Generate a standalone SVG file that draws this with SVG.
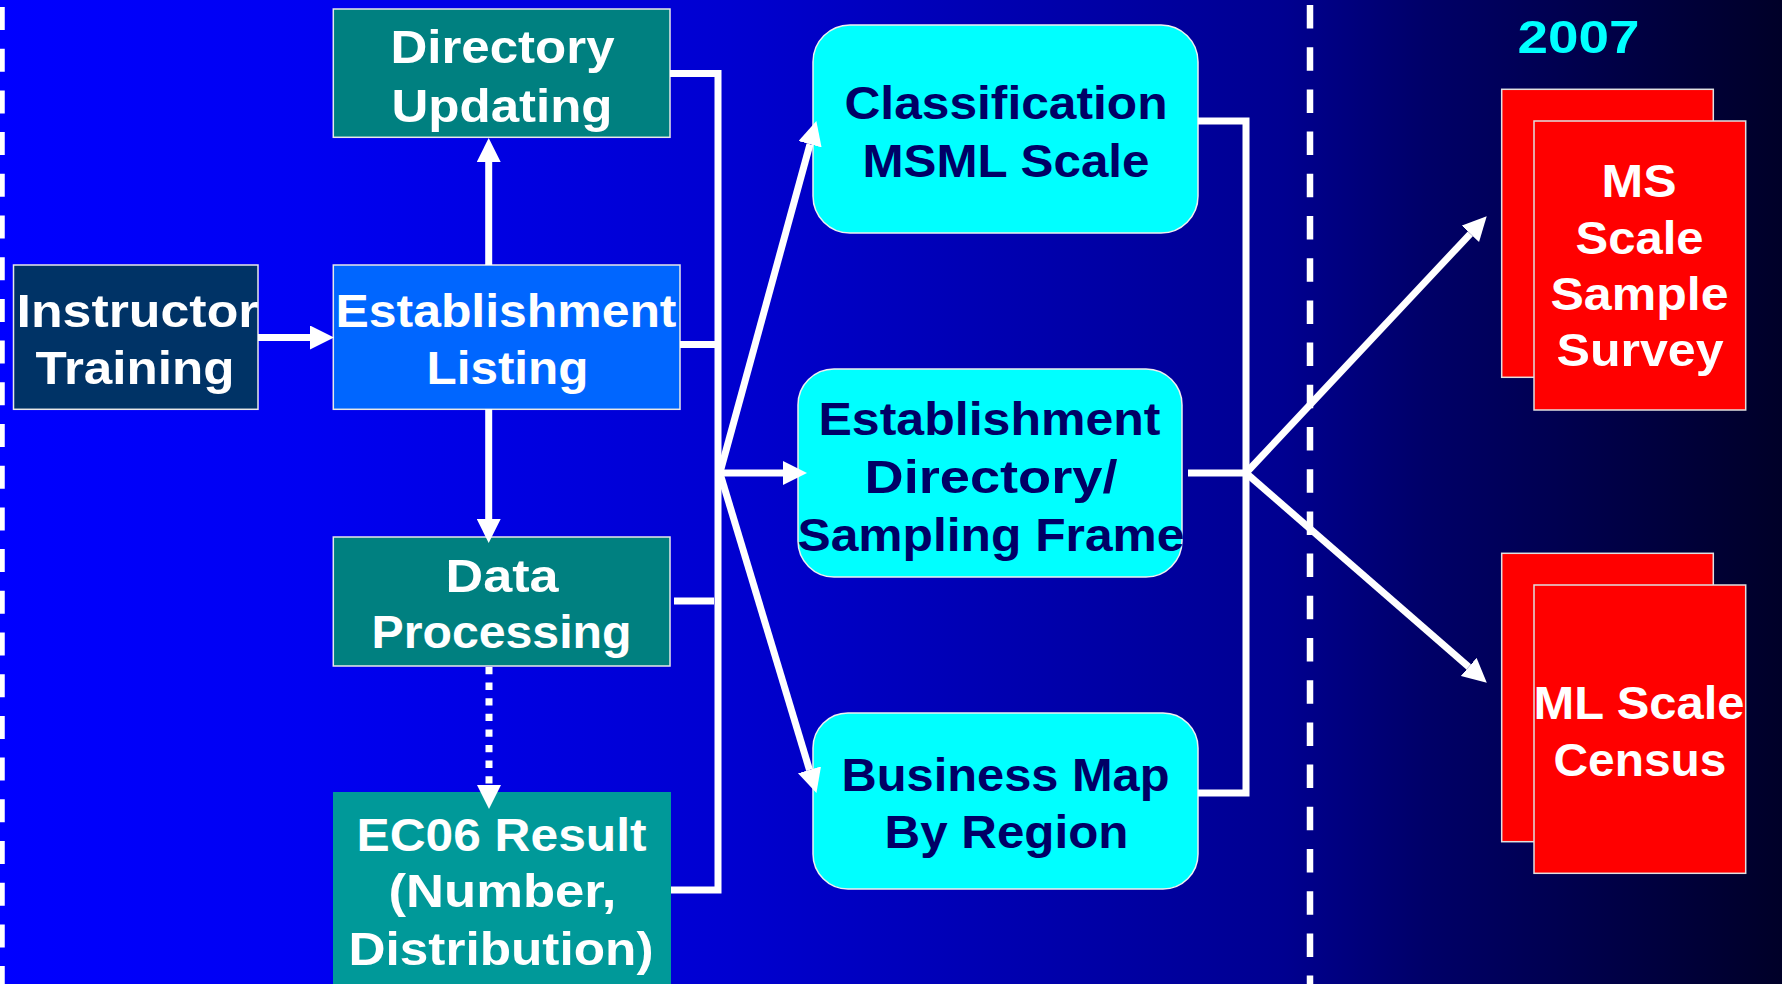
<svg xmlns="http://www.w3.org/2000/svg" width="1782" height="984" viewBox="0 0 1782 984">
<defs>
<linearGradient id="bg" x1="0" y1="0" x2="1782" y2="0" gradientUnits="userSpaceOnUse">
<stop offset="0" stop-color="#0000FF"/>
<stop offset="0.17" stop-color="#0000F2"/>
<stop offset="0.41" stop-color="#0000D0"/>
<stop offset="0.72" stop-color="#000090"/>
<stop offset="0.80" stop-color="#000068"/>
<stop offset="1" stop-color="#000028"/>
</linearGradient>
<marker id="arr" markerUnits="userSpaceOnUse" markerWidth="25" markerHeight="24" refX="0" refY="12" orient="auto" viewBox="0 0 25 24">
<path d="M0,0 L24,12 L0,24 Z" fill="#FFFFFF"/>
</marker>
<style>
.t{font-family:"Liberation Sans",Arial,sans-serif;font-weight:bold;font-size:46px;text-anchor:middle}
.w{fill:#FFFFFF}
.d{fill:#000066}
.c{fill:#00FFFF}
.box{stroke:#E8E8E8;stroke-width:1.5}
.cy{fill:#00FFFF;stroke:#F0F0F0;stroke-width:1.5}
.red{fill:#FF0000;stroke:#E0E0E0;stroke-width:1.5}
.ln{fill:none;stroke:#FFFFFF;stroke-width:7;stroke-linecap:butt;stroke-linejoin:miter}
.arrow{marker-end:url(#arr)}
.dash{fill:none;stroke:#FFFFFF;stroke-width:6.5}
</style>
</defs>
<rect x="0" y="0" width="1782" height="984" fill="url(#bg)"/>
<g id="separators">
<path class="dash" d="M1.5,0 V984" stroke-dasharray="23 18.7" stroke-dashoffset="-7"/>
<path class="dash" d="M1310,0 V984" stroke-dasharray="23.5 18.7" stroke-dashoffset="-5"/>
</g>
<g id="header">
<text class="t c" x="1578.5" y="53" textLength="122" lengthAdjust="spacingAndGlyphs">2007</text>
</g>
<g id="instructor-training">
<rect class="box" x="13.5" y="265" width="244.5" height="144.3" fill="#003366"/>
<text class="t w" x="137.5" y="327" textLength="242" lengthAdjust="spacingAndGlyphs">Instructor</text>
<text class="t w" x="135" y="384" textLength="199" lengthAdjust="spacingAndGlyphs">Training</text>
</g>
<g id="establishment-listing">
<rect class="box" x="333.3" y="265" width="346.7" height="144.3" fill="#0066FF"/>
<text class="t w" x="506" y="327" textLength="341" lengthAdjust="spacingAndGlyphs">Establishment</text>
<text class="t w" x="507.5" y="384" textLength="162" lengthAdjust="spacingAndGlyphs">Listing</text>
</g>
<g id="directory-updating">
<rect class="box" x="333.3" y="9" width="336.7" height="128.3" fill="#008080"/>
<text class="t w" x="502.5" y="63.3" textLength="224" lengthAdjust="spacingAndGlyphs">Directory</text>
<text class="t w" x="502" y="122" textLength="221" lengthAdjust="spacingAndGlyphs">Updating</text>
</g>
<g id="data-processing">
<rect class="box" x="333.3" y="537" width="336.7" height="129" fill="#008080"/>
<text class="t w" x="502" y="592" textLength="113" lengthAdjust="spacingAndGlyphs">Data</text>
<text class="t w" x="501.5" y="648" textLength="260" lengthAdjust="spacingAndGlyphs">Processing</text>
</g>
<g id="ec06-result">
<rect x="333" y="792" width="338" height="200" fill="#009999"/>
<text class="t w" x="501.5" y="851" textLength="290" lengthAdjust="spacingAndGlyphs">EC06 Result</text>
<text class="t w" x="502.5" y="907" textLength="228" lengthAdjust="spacingAndGlyphs">(Number,</text>
<text class="t w" x="501" y="965" textLength="305" lengthAdjust="spacingAndGlyphs">Distribution)</text>
</g>
<g id="classification">
<rect class="cy" x="813" y="25" width="385" height="208" rx="37" ry="37"/>
<text class="t d" x="1006" y="119" textLength="323" lengthAdjust="spacingAndGlyphs">Classification</text>
<text class="t d" x="1006" y="177" textLength="287" lengthAdjust="spacingAndGlyphs">MSML Scale</text>
</g>
<g id="establishment-directory">
<rect class="cy" x="798" y="369" width="384" height="208" rx="36" ry="36"/>
<text class="t d" x="989.5" y="435" textLength="342" lengthAdjust="spacingAndGlyphs">Establishment</text>
<text class="t d" x="991" y="493" textLength="253" lengthAdjust="spacingAndGlyphs">Directory/</text>
<text class="t d" x="991" y="551" textLength="387" lengthAdjust="spacingAndGlyphs">Sampling Frame</text>
</g>
<g id="business-map">
<rect class="cy" x="813" y="713" width="385" height="176" rx="35" ry="35"/>
<text class="t d" x="1005.5" y="791" textLength="328" lengthAdjust="spacingAndGlyphs">Business Map</text>
<text class="t d" x="1006.5" y="848" textLength="244" lengthAdjust="spacingAndGlyphs">By Region</text>
</g>
<g id="ms-scale-sample-survey">
<rect class="red" x="1501.7" y="89.3" width="211.6" height="288"/>
<rect class="red" x="1534" y="121" width="211.7" height="289"/>
<text class="t w" x="1639" y="197" textLength="75" lengthAdjust="spacingAndGlyphs">MS</text>
<text class="t w" x="1639.5" y="254" textLength="128" lengthAdjust="spacingAndGlyphs">Scale</text>
<text class="t w" x="1639.5" y="310" textLength="178" lengthAdjust="spacingAndGlyphs">Sample</text>
<text class="t w" x="1640" y="366" textLength="167" lengthAdjust="spacingAndGlyphs">Survey</text>
</g>
<g id="ml-scale-census">
<rect class="red" x="1501.7" y="553.3" width="211.6" height="288.4"/>
<rect class="red" x="1534" y="585" width="211.7" height="288.3"/>
<text class="t w" x="1639" y="719" textLength="211" lengthAdjust="spacingAndGlyphs">ML Scale</text>
<text class="t w" x="1640" y="776" textLength="173" lengthAdjust="spacingAndGlyphs">Census</text>
</g>
<g id="connectors">
<path class="ln arrow" d="M258,337.5 H310"/>
<path class="ln arrow" d="M488.7,265 V162"/>
<path class="ln arrow" d="M488.7,409 V519"/>
<path class="ln arrow" d="M489,667 V785" stroke-dasharray="7.3 8.3"/>
<path class="ln" d="M670,73.5 H718 V890 H671"/>
<path class="ln" d="M680,344.5 H718"/>
<path class="ln" d="M674,601 H714"/>
<path class="ln arrow" d="M718,473 H783"/>
<path class="ln arrow" d="M719,476 L810,144.2"/>
<path class="ln arrow" d="M719,470 L809.5,769.9"/>
<path class="ln" d="M1198,121 H1246 V793 H1198"/>
<path class="ln" d="M1188,473 H1246"/>
<path class="ln arrow" d="M1246,473 L1470.3,233.8"/>
<path class="ln arrow" d="M1246,473 L1468.7,666.9"/>
</g>
</svg>
